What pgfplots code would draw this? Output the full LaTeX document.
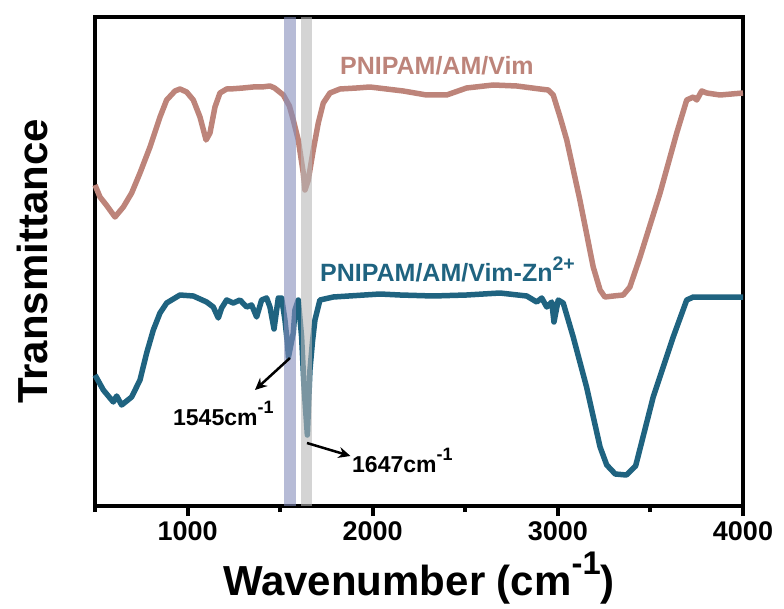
\documentclass[border=0pt]{standalone}
\usepackage{pgfplots}
\pgfplotsset{compat=1.18}
\usepackage{fontspec}
\setmainfont{Liberation Sans}
\usetikzlibrary{arrows.meta}

\definecolor{pure}{RGB}{189,132,122}
\definecolor{znc}{RGB}{31,99,128}
\definecolor{bandblue}{RGB}{133,142,187}
\definecolor{bandgray}{RGB}{183,183,183}

% raised superscript in the text font
\newcommand\sups[2][0.42em]{\raisebox{#1}{\scalebox{0.78}{#2}}}

\begin{document}
\begin{tikzpicture}
\useasboundingbox (-95pt,-102pt) rectangle (689pt,506pt);
\begin{axis}[
  at={(0,0)}, anchor=south west,
  scale only axis, width=648pt, height=489pt,
  xmin=500, xmax=4000, ymin=0, ymax=489,
  axis line style={line width=4.5pt},
  xtick={1000,2000,3000,4000},
  xticklabels={1000,2000,3000,4000},
  minor xtick={500,1500,2500,3500},
  ytick=\empty,
  xtick pos=bottom,
  tick align=outside,
  major tick length=10pt, minor tick length=6pt,
  every tick/.style={line width=4pt, black},
  xticklabel style={font=\fontsize{27}{27}\selectfont\bfseries, yshift=-2pt},
  xlabel={Wavenumber (cm\sups[0.5em]{-1})},
  xlabel style={font=\fontsize{42}{42}\selectfont\bfseries,
    at={(axis description cs:0.5,-0.184)}, anchor=base},
  ylabel={Transmittance},
  ylabel style={font=\fontsize{42}{42}\selectfont\bfseries,
    at={(axis description cs:-0.0957,0.5)}, anchor=center},
  clip=false,
]
% PNIPAM/AM/Vim
\addplot[pure, line width=5.5pt, line join=round] coordinates {
(500,321) (527,309) (561,301) (608,289) (653,299) (698,313) (743,333)
(797,359) (851,389) (887,406) (932,415) (959,417) (995,414) (1031,406)
(1067,389) (1100,366) (1121,373) (1148,399) (1175,413) (1211,417)
(1229,417) (1300,418) (1353,419) (1400,419) (1445,420) (1470,418)
(1517,411) (1550,400) (1571,386) (1598,366) (1625,333) (1634,316)
(1652,326) (1679,356) (1706,383) (1733,403) (1769,413) (1823,417)
(1913,418) (1985,419) (2075,417) (2165,415) (2291,411) (2327,411)
(2399,411) (2507,418) (2651,421) (2778,420) (2903,417) (2948,416)
(2975,411) (3012,389) (3048,366) (3119,306) (3191,239) (3228,216)
(3254,209) (3300,210) (3353,211) (3389,219) (3444,249) (3552,313)
(3642,373) (3696,406) (3732,409) (3750,406) (3777,415) (3804,413)
(3876,411) (4000,413)
};
% PNIPAM/AM/Vim-Zn2+
\addplot[znc, line width=5.5pt, line join=round] coordinates {
(500,131) (545,116) (599,104) (617,110) (644,101) (698,109) (743,126)
(779,153) (815,176) (851,193) (887,203) (959,211) (1031,210) (1103,204)
(1139,199) (1166,188) (1184,198) (1211,206) (1247,203) (1283,206)
(1319,199) (1346,201) (1373,189) (1400,206) (1427,208) (1445,199)
(1467,177) (1490,208) (1508,208) (1526,186) (1539,163) (1545,149)
(1571,173) (1580,196) (1598,206) (1616,169) (1629,119) (1647,71)
(1661,136) (1675,165) (1688,186) (1715,206) (1787,209) (2039,212)
(2147,211) (2327,210) (2507,211) (2687,213) (2832,210) (2886,204)
(2913,208) (2940,199) (2967,204) (2979,184) (3002,206) (3029,203)
(3083,169) (3155,119) (3228,59) (3264,41) (3310,32) (3370,31)
(3420,40) (3515,109) (3623,169) (3696,206) (3732,209) (4000,209)
};
% marker bands at 1545 and 1647 cm^-1
\addplot[draw=none, fill=bandblue, fill opacity=0.6] coordinates {
(1521,0) (1584,0) (1584,489) (1521,489)} -- cycle;
\addplot[draw=none, fill=bandgray, fill opacity=0.6] coordinates {
(1611,0) (1674,0) (1674,489) (1611,489)} -- cycle;
% labels
\node[pure, anchor=base west, inner sep=0pt, font=\fontsize{25}{25}\selectfont\bfseries]
  at (axis cs:1823,431) {PNIPAM/AM/Vim};
\node[znc, anchor=base west, inner sep=0pt, font=\fontsize{25}{25}\selectfont\bfseries]
  at (axis cs:1715,224) {PNIPAM/AM/Vim-Zn\sups[0.45em]{2+}};
\node[black, anchor=base west, inner sep=0pt, font=\fontsize{23}{23}\selectfont\bfseries]
  at (axis cs:921,81) {1545cm\sups[0.5em]{-1}};
\node[black, anchor=base west, inner sep=0pt, font=\fontsize{23}{23}\selectfont\bfseries]
  at (axis cs:1888,34) {1647cm\sups[0.5em]{-1}};
\draw[line width=2.5pt, -{Stealth[length=12pt,width=11pt]}]
  (axis cs:1553,148) -- (axis cs:1364,116);
\draw[line width=2.5pt, -{Stealth[length=12pt,width=11pt]}]
  (axis cs:1645,63) -- (axis cs:1880,50);
\end{axis}
\end{tikzpicture}
\end{document}
